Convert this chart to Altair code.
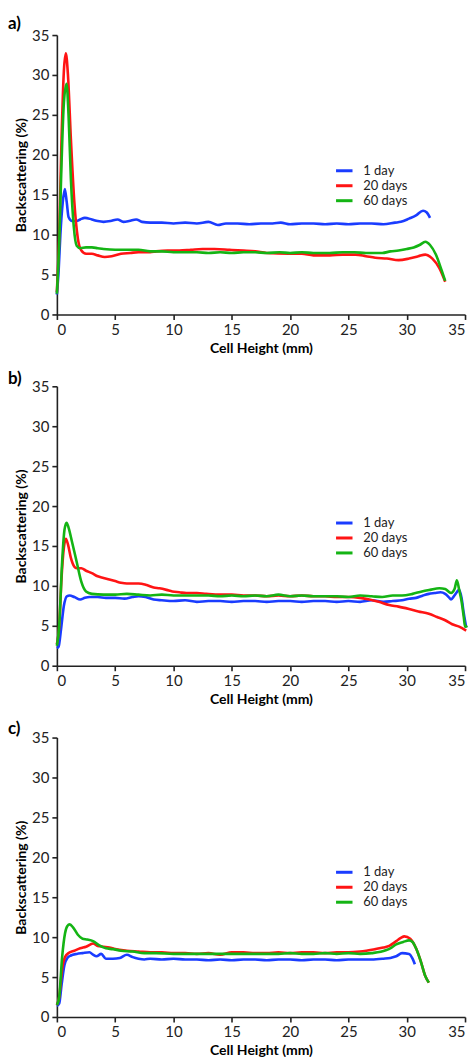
import altair as alt
import pandas as pd

SERIES = ["1 day", "20 days", "60 days"]
COLORS = ["#1a3cff", "#ff1414", "#14b414"]
X_TICKS = [0, 5, 10, 15, 20, 25, 30, 35]
Y_TICKS = [0, 5, 10, 15, 20, 25, 30, 35]
PANEL_LABELS = ["a)", "b)", "c)"]

# ---------- panel a ----------
A1_X = [0, 0.15, 0.3, 0.5, 0.68, 0.85, 1.0, 1.3, 1.7, 2.0, 2.4, 3.0, 3.5, 4.0, 4.6, 5.2, 5.7, 6.2, 6.8, 7.3,
        8, 9, 10, 11, 12, 13, 13.8, 14.5, 15.5, 16.5, 17.5, 18.5, 19.2, 20, 21, 22, 23, 24, 25, 26, 27, 28, 29,
        29.5, 30.2, 30.8, 31.4, 31.7, 32.0]
A1_Y = [2.5, 5.5, 10, 14, 15.7, 14, 12.2, 11.7, 11.7, 11.9, 12.1, 11.9, 11.7, 11.6, 11.7, 11.9, 11.6, 11.7, 11.9, 11.6,
        11.5, 11.5, 11.4, 11.5, 11.4, 11.6, 11.2, 11.4, 11.4, 11.3, 11.4, 11.4, 11.5, 11.3, 11.4, 11.4, 11.3, 11.4, 11.3,
        11.4, 11.4, 11.3, 11.5, 11.6, 12.0, 12.4, 13.0, 12.8, 12.1]
A20_X = [0, 0.2, 0.4, 0.6, 0.77, 0.95, 1.2, 1.5, 1.8, 2.1, 2.5, 3.0, 3.5, 4.1, 4.7, 5.5, 6.3, 7, 8, 8.5, 9.5, 10.5,
         11.5, 12.5, 13.5, 14.8, 16, 17, 18, 19.9, 21, 22, 23.4, 24.5, 25.6, 26.5, 27.3, 28.3, 29.3, 30.2, 31, 31.6,
         32.2, 32.8, 33.3]
A20_Y = [2.8, 10, 22, 30.5, 32.7, 30, 22, 14, 9.5, 8.0, 7.6, 7.6, 7.4, 7.2, 7.3, 7.6, 7.7, 7.8, 7.8, 7.9, 8.0, 8.0,
         8.1, 8.2, 8.2, 8.1, 8.0, 7.9, 7.7, 7.6, 7.6, 7.4, 7.4, 7.5, 7.5, 7.3, 7.1, 7.0, 6.8, 7.0, 7.3, 7.5,
         7.0, 5.8, 4.1]
A60_X = [0, 0.2, 0.4, 0.6, 0.83, 1.0, 1.2, 1.45, 1.7, 2.0, 2.5, 3.0, 3.5, 4, 5, 6, 7, 8, 9, 10, 11, 12, 13, 14, 15,
         16, 17, 18, 19.1, 20, 21, 22, 23.4, 24.5, 25.5, 26.5, 27.9, 28.6, 29.3, 30, 30.6, 31.1, 31.6, 32.0, 32.5,
         33.0, 33.3]
A60_Y = [2.6, 9, 19, 26.5, 28.9, 25, 17, 11, 8.6, 8.3, 8.4, 8.4, 8.3, 8.2, 8.1, 8.1, 8.1, 7.9, 7.9, 7.8, 7.8, 7.8,
         7.7, 7.8, 7.7, 7.8, 7.8, 7.7, 7.8, 7.7, 7.8, 7.7, 7.7, 7.8, 7.8, 7.7, 7.7, 7.9, 8.0, 8.2, 8.4, 8.7, 9.1,
         8.7, 7.5, 5.5, 4.2]

# ---------- panel b ----------
B1_X = [0, 0.15, 0.35, 0.6, 0.85, 1.1, 1.5, 2.0, 2.4, 2.8, 3.5, 4.2, 5, 5.8, 6.5, 7.0, 7.6, 8.3, 9, 10, 11, 12, 13,
        14, 15, 16, 17, 18, 19, 20, 21, 22, 23, 24, 25, 26, 27, 28, 28.8, 29.6, 30.2, 30.8, 31.4, 31.9, 32.4, 32.9,
        33.3, 33.6, 33.8, 34.1, 34.5, 34.7, 34.9, 35.1]
B1_Y = [2.2, 2.4, 4.5, 7.5, 8.7, 8.8, 8.6, 8.3, 8.5, 8.6, 8.6, 8.5, 8.5, 8.4, 8.6, 8.7, 8.6, 8.3, 8.2, 8.1, 8.2, 8.0,
        8.1, 8.1, 8.0, 8.1, 8.1, 8.0, 8.1, 8.1, 8.0, 8.1, 8.1, 8.0, 8.1, 8.0, 8.2, 8.0, 8.1, 8.2, 8.4, 8.5, 8.8, 9.0,
        9.1, 9.2, 9.0, 8.6, 8.3, 8.8, 9.5, 8.5, 6.5, 4.8]
B20_X = [0, 0.2, 0.4, 0.6, 0.77, 0.95, 1.2, 1.5, 1.7, 2.1, 2.5, 3.0, 3.5, 4, 4.5, 5.0, 5.5, 6.0, 7.0, 7.7, 8.3, 8.8,
         9.4, 9.9, 10.5, 11.1, 12, 12.8, 14, 15, 16, 17, 18, 19, 20, 21, 22, 23, 24, 25, 26, 26.8, 27.6, 28.5, 29.3,
         30.2, 31.0, 31.9, 32.6, 33.3, 33.9, 34.5, 35.1]
B20_Y = [2.7, 5, 11, 14.8, 15.9, 15.2, 13.5, 12.4, 12.2, 12.2, 11.9, 11.6, 11.2, 11.0, 10.8, 10.6, 10.4, 10.3, 10.3,
         10.1, 9.8, 9.7, 9.5, 9.3, 9.2, 9.1, 9.1, 9.0, 8.9, 8.9, 8.8, 8.8, 8.7, 8.8, 8.7, 8.8, 8.7, 8.7, 8.6, 8.6,
         8.5, 8.3, 8.0, 7.6, 7.4, 7.1, 6.8, 6.5, 6.1, 5.7, 5.2, 4.9, 4.4]
B60_X = [0, 0.2, 0.45, 0.65, 0.83, 1.0, 1.3, 1.7, 2.1, 2.5, 3, 4, 5, 6, 7, 8, 9, 10, 11, 12, 13, 14, 15, 16, 17, 18,
         19, 20, 21, 22, 23, 24, 25, 26, 27, 27.9, 28.8, 29.6, 30.5, 31.3, 32.0, 32.8, 33.3, 33.8, 34.1, 34.3, 34.5,
         34.7, 34.9, 35.0, 35.2]
B60_Y = [2.5, 5, 13, 17, 17.9, 17.3, 15.5, 13.0, 10.5, 9.3, 9.0, 8.9, 8.9, 9.0, 8.9, 8.8, 8.9, 8.8, 8.8, 8.8, 8.8,
         8.7, 8.8, 8.7, 8.8, 8.7, 8.9, 8.7, 8.8, 8.7, 8.7, 8.7, 8.6, 8.8, 8.7, 8.6, 8.8, 8.8, 9.0, 9.3, 9.5, 9.7,
         9.6, 9.1, 9.6, 10.7, 9.5, 8.1, 6.0, 4.9, 5.0]

# ---------- panel c ----------
C1_X = [0, 0.2, 0.4, 0.65, 0.9, 1.2, 1.7, 2.2, 2.8, 3.1, 3.4, 3.8, 4.2, 4.8, 5.4, 6.0, 6.5, 7.0, 7.5, 8, 9, 10, 11,
        12, 13, 14, 15, 16, 17, 18, 19, 20, 21, 22, 23, 24, 25, 26, 27, 28, 28.6, 29.1, 29.6, 30.2, 30.5, 30.7]
C1_Y = [1.4, 1.7, 4.0, 6.5, 7.4, 7.7, 7.9, 8.0, 8.1, 7.8, 7.6, 7.9, 7.3, 7.3, 7.4, 7.8, 7.5, 7.3, 7.2, 7.3, 7.2, 7.3,
        7.2, 7.2, 7.1, 7.2, 7.1, 7.2, 7.2, 7.1, 7.2, 7.2, 7.1, 7.2, 7.2, 7.1, 7.2, 7.2, 7.2, 7.3, 7.4, 7.6, 8.0,
        7.9, 7.3, 6.6]
C20_X = [0, 0.2, 0.45, 0.7, 1.0, 1.5, 2.0, 2.5, 3.1, 3.5, 4.0, 4.5, 5.0, 6.0, 7, 8, 9, 10, 11, 12, 13, 14, 15, 15.5,
         16, 17, 18, 19, 20, 21, 22, 23, 24, 25, 26, 27.3, 28, 28.5, 29.1, 29.5, 29.8, 30.3, 30.8, 31.2, 31.6, 31.9]
C20_Y = [1.5, 2.5, 6.0, 7.5, 8.0, 8.3, 8.6, 8.8, 9.2, 8.9, 8.8, 8.7, 8.5, 8.3, 8.2, 8.1, 8.1, 8.0, 8.0, 7.9, 8.0,
         7.8, 8.1, 8.1, 8.1, 8.0, 8.0, 8.1, 8.0, 8.1, 8.1, 8.0, 8.1, 8.1, 8.2, 8.5, 8.7, 8.9, 9.5, 9.9, 10.1, 9.8,
         8.6, 7.0, 5.1, 4.3]
C60_X = [0, 0.2, 0.45, 0.7, 0.9, 1.1, 1.4, 1.8, 2.2, 2.6, 3.1, 3.6, 4.2, 4.8, 5.5, 6.5, 7.5, 8.5, 10, 11, 12, 13, 14,
         15, 16, 17, 18, 19, 20, 21, 22, 23, 24, 25, 26, 27, 28.2, 28.7, 29.1, 29.7, 30.2, 30.5, 30.8, 31.2, 31.6,
         31.9]
C60_Y = [1.5, 2.5, 7.5, 10.5, 11.4, 11.6, 11.2, 10.3, 9.8, 9.7, 9.5, 9.0, 8.6, 8.5, 8.3, 8.2, 8.0, 8.0, 7.9, 7.9,
         7.9, 7.9, 7.9, 7.9, 7.9, 7.9, 7.9, 7.9, 8.0, 7.9, 7.9, 8.0, 7.9, 8.0, 7.9, 8.0, 8.35, 8.7, 9.1, 9.4, 9.6,
         9.4, 8.6, 7.0, 5.1, 4.3]

PANELS = [
    (PANEL_LABELS[0], [(A1_X, A1_Y), (A20_X, A20_Y), (A60_X, A60_Y)], -11, 129),
    (PANEL_LABELS[1], [(B1_X, B1_Y), (B20_X, B20_Y), (B60_X, B60_Y)], -7, 130),
    (PANEL_LABELS[2], [(C1_X, C1_Y), (C20_X, C20_Y), (C60_X, C60_Y)], -9, 128),
]

FONT = "Lato"
W, H = 409, 280


def make_panel(label, series, label_dy, legend_y):
    rows = []
    for name, (xs, ys) in zip(SERIES, series):
        for i, (xv, yv) in enumerate(zip(xs, ys)):
            rows.append({"series": name, "x": xv, "y": yv, "i": i})
    df = pd.DataFrame(rows)
    lines = alt.Chart(df).mark_line(strokeWidth=2.6, interpolate="monotone").encode(
        x=alt.X("x:Q", scale=alt.Scale(domain=[0, 35], nice=False),
                axis=alt.Axis(values=X_TICKS, title="Cell Height (mm)")),
        y=alt.Y("y:Q", scale=alt.Scale(domain=[0, 35], nice=False),
                axis=alt.Axis(values=Y_TICKS, title="Backscattering (%)",
                              titleX=-35, titleY=H / 2, titleAngle=270,
                              titleAlign="center", titleBaseline="middle")),
        color=alt.Color("series:N", scale=alt.Scale(domain=SERIES, range=COLORS),
                        legend=alt.Legend(title=None, orient="none", legendX=281, legendY=legend_y,
                                          symbolType="M-1.5,0H1.5", symbolSize=121, symbolStrokeWidth=3,
                                          labelFontSize=13, labelFont=FONT, labelColor="#222",
                                          labelOffset=12, rowPadding=1, padding=0)),
        order="i:Q",
    )
    txt = alt.Chart(pd.DataFrame({"t": [label]})).mark_text(
        align="left", baseline="middle", fontSize=17, fontWeight="bold", font=FONT, color="#000"
    ).encode(text="t:N", x=alt.value(-49), y=alt.value(label_dy))
    return alt.layer(lines, txt).properties(width=W, height=H)


chart = alt.vconcat(*[make_panel(*p) for p in PANELS], spacing=72, bounds="flush").resolve_scale(
    color="independent").resolve_legend(color="independent").configure(
    padding={"left": 8, "top": 14, "right": 2, "bottom": 4}
).configure_view(stroke=None).configure_axis(
    grid=False, domainColor="#222", domainWidth=1.6, tickColor="#222", tickWidth=1.6, tickSize=5,
    labelFont=FONT, labelFontSize=15, labelColor="#222", labelPadding=3,
    titleFont=FONT, titleFontSize=14, titleFontWeight="bold", titleColor="#000", titlePadding=4
)

chart.save("out.html", embed_options={"renderer": "svg", "actions": False})
